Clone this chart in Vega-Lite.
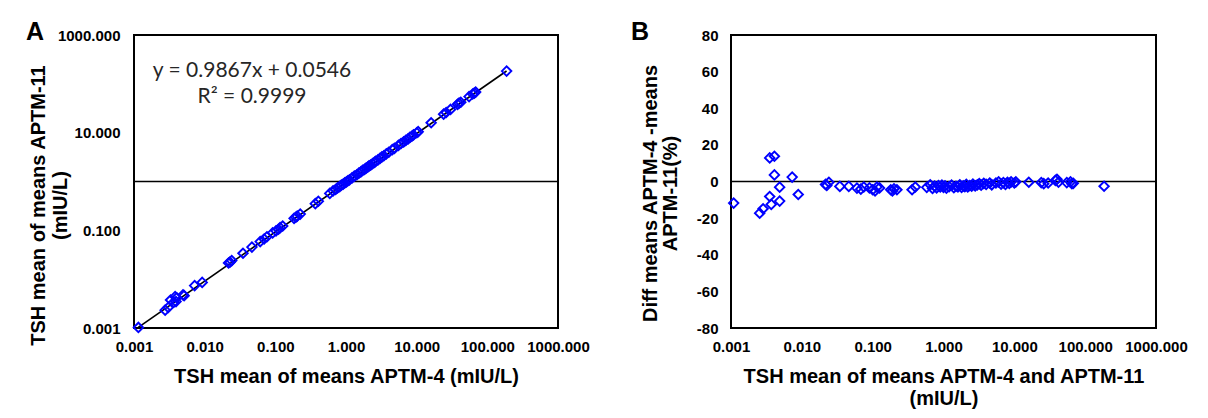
{
  "$schema": "https://vega.github.io/schema/vega-lite/v6.json",
  "background": "white",
  "padding": {"left": 25, "top": 18, "right": 5, "bottom": 5},
  "datasets": {
    "pts": [
      {"mean": 0.00109, "diff": -11.8, "a4": 0.001154, "a11": 0.001026},
      {"mean": 0.00254, "diff": -17.3, "a4": 0.00276, "a11": 0.00232},
      {"mean": 0.00284, "diff": -14.9, "a4": 0.00305, "a11": 0.00263},
      {"mean": 0.00352, "diff": 12.9, "a4": 0.00329, "a11": 0.00375},
      {"mean": 0.0041, "diff": 13.8, "a4": 0.00382, "a11": 0.00438},
      {"mean": 0.0041, "diff": 3.6, "a4": 0.00403, "a11": 0.00417},
      {"mean": 0.00352, "diff": -8.2, "a4": 0.00366, "a11": 0.00338},
      {"mean": 0.0037, "diff": -12.5, "a4": 0.00393, "a11": 0.00347},
      {"mean": 0.00486, "diff": -3.1, "a4": 0.00494, "a11": 0.00478},
      {"mean": 0.00486, "diff": -10.7, "a4": 0.00512, "a11": 0.0046},
      {"mean": 0.0073, "diff": 2.4, "a4": 0.00721, "a11": 0.00739},
      {"mean": 0.0089, "diff": -7.1, "a4": 0.00922, "a11": 0.00858},
      {"mean": 0.0216, "diff": -1.6, "a4": 0.02177, "a11": 0.02143},
      {"mean": 0.0241, "diff": -0.4, "a4": 0.02415, "a11": 0.02405},
      {"mean": 0.0225, "diff": -2.2, "a4": 0.02275, "a11": 0.02225},
      {"mean": 0.0344, "diff": -2.7, "a4": 0.03486, "a11": 0.03394},
      {"mean": 0.046, "diff": -2.7, "a4": 0.04662, "a11": 0.04538},
      {"mean": 0.06, "diff": -3.6, "a4": 0.06108, "a11": 0.05892},
      {"mean": 0.068, "diff": -4.2, "a4": 0.06943, "a11": 0.06657},
      {"mean": 0.075, "diff": -3.0, "a4": 0.07613, "a11": 0.07388},
      {"mean": 0.09, "diff": -3.5, "a4": 0.09158, "a11": 0.08843},
      {"mean": 0.1, "diff": -4.5, "a4": 0.10225, "a11": 0.09775},
      {"mean": 0.108, "diff": -5.2, "a4": 0.11081, "a11": 0.10519},
      {"mean": 0.115, "diff": -3.0, "a4": 0.11673, "a11": 0.11328},
      {"mean": 0.125, "diff": -3.5, "a4": 0.12719, "a11": 0.12281},
      {"mean": 0.18, "diff": -4.5, "a4": 0.18405, "a11": 0.17595},
      {"mean": 0.2, "diff": -4.0, "a4": 0.204, "a11": 0.196},
      {"mean": 0.19, "diff": -5.2, "a4": 0.19494, "a11": 0.18506},
      {"mean": 0.22, "diff": -4.5, "a4": 0.22495, "a11": 0.21505},
      {"mean": 0.36, "diff": -4.5, "a4": 0.3681, "a11": 0.3519},
      {"mean": 0.4, "diff": -3.0, "a4": 0.406, "a11": 0.394},
      {"mean": 0.58, "diff": -3.2, "a4": 0.5893, "a11": 0.5707},
      {"mean": 0.65, "diff": -1.8, "a4": 0.6559, "a11": 0.6442},
      {"mean": 0.7, "diff": -3.8, "a4": 0.7133, "a11": 0.6867},
      {"mean": 0.75, "diff": -2.5, "a4": 0.7594, "a11": 0.7406},
      {"mean": 0.8, "diff": -3.5, "a4": 0.814, "a11": 0.786},
      {"mean": 0.85, "diff": -2.2, "a4": 0.8594, "a11": 0.8407},
      {"mean": 0.9, "diff": -3.0, "a4": 0.9135, "a11": 0.8865},
      {"mean": 0.95, "diff": -2.0, "a4": 0.9595, "a11": 0.9405},
      {"mean": 1.0, "diff": -3.2, "a4": 1.016, "a11": 0.984},
      {"mean": 1.05, "diff": -2.4, "a4": 1.0626, "a11": 1.0374},
      {"mean": 1.1, "diff": -3.6, "a4": 1.1198, "a11": 1.0802},
      {"mean": 1.2, "diff": -2.8, "a4": 1.2168, "a11": 1.1832},
      {"mean": 1.3, "diff": -2.0, "a4": 1.313, "a11": 1.287},
      {"mean": 1.4, "diff": -3.4, "a4": 1.4238, "a11": 1.3762},
      {"mean": 1.5, "diff": -2.6, "a4": 1.5195, "a11": 1.4805},
      {"mean": 1.6, "diff": -3.0, "a4": 1.624, "a11": 1.576},
      {"mean": 1.7, "diff": -1.8, "a4": 1.7153, "a11": 1.6847},
      {"mean": 1.8, "diff": -3.2, "a4": 1.8288, "a11": 1.7712},
      {"mean": 1.9, "diff": -2.4, "a4": 1.9228, "a11": 1.8772},
      {"mean": 2.0, "diff": -2.8, "a4": 2.028, "a11": 1.972},
      {"mean": 2.1, "diff": -1.6, "a4": 2.1168, "a11": 2.0832},
      {"mean": 2.2, "diff": -3.0, "a4": 2.233, "a11": 2.167},
      {"mean": 2.35, "diff": -2.2, "a4": 2.3759, "a11": 2.3242},
      {"mean": 2.5, "diff": -2.6, "a4": 2.5325, "a11": 2.4675},
      {"mean": 2.6, "diff": -1.4, "a4": 2.6182, "a11": 2.5818},
      {"mean": 2.8, "diff": -2.4, "a4": 2.8336, "a11": 2.7664},
      {"mean": 3.0, "diff": -1.8, "a4": 3.027, "a11": 2.973},
      {"mean": 3.2, "diff": -1.2, "a4": 3.2192, "a11": 3.1808},
      {"mean": 3.4, "diff": -2.0, "a4": 3.434, "a11": 3.366},
      {"mean": 3.7, "diff": -1.0, "a4": 3.7185, "a11": 3.6815},
      {"mean": 4.0, "diff": -1.6, "a4": 4.032, "a11": 3.968},
      {"mean": 4.5, "diff": -0.8, "a4": 4.518, "a11": 4.482},
      {"mean": 4.8, "diff": -1.8, "a4": 4.8432, "a11": 4.7568},
      {"mean": 5.5, "diff": -0.8, "a4": 5.522, "a11": 5.478},
      {"mean": 6.0, "diff": -0.2, "a4": 6.006, "a11": 5.994},
      {"mean": 6.5, "diff": -1.4, "a4": 6.5455, "a11": 6.4545},
      {"mean": 7.0, "diff": -0.6, "a4": 7.021, "a11": 6.979},
      {"mean": 7.5, "diff": -1.6, "a4": 7.56, "a11": 7.44},
      {"mean": 8.0, "diff": -0.4, "a4": 8.016, "a11": 7.984},
      {"mean": 8.5, "diff": -1.0, "a4": 8.5425, "a11": 8.4575},
      {"mean": 9.0, "diff": -0.2, "a4": 9.009, "a11": 8.991},
      {"mean": 10.0, "diff": -0.8, "a4": 10.04, "a11": 9.96},
      {"mean": 10.5, "diff": -0.2, "a4": 10.51, "a11": 10.49},
      {"mean": 16, "diff": -0.4, "a4": 16.03, "a11": 15.97},
      {"mean": 24, "diff": -0.6, "a4": 24.07, "a11": 23.93},
      {"mean": 26, "diff": -1.2, "a4": 26.16, "a11": 25.84},
      {"mean": 30, "diff": -0.8, "a4": 30.12, "a11": 29.88},
      {"mean": 38, "diff": 0.6, "a4": 37.89, "a11": 38.11},
      {"mean": 40, "diff": 1.2, "a4": 39.76, "a11": 40.24},
      {"mean": 42, "diff": -0.4, "a4": 42.08, "a11": 41.92},
      {"mean": 55, "diff": -0.6, "a4": 55.17, "a11": 54.84},
      {"mean": 62, "diff": -0.2, "a4": 62.06, "a11": 61.94},
      {"mean": 65, "diff": -1.2, "a4": 65.39, "a11": 64.61},
      {"mean": 68, "diff": -1.0, "a4": 68.34, "a11": 67.66},
      {"mean": 185, "diff": -2.6, "a4": 187.4, "a11": 182.6}
    ],
    "trend": [
      {"a4": 0.00115, "a11": 0.00103},
      {"a4": 187, "a11": 183}
    ],
    "eq": [
      {"a4": 0.0468, "a11": 179, "label": "y = 0.9867x + 0.0546"},
      {"a4": 0.0468, "a11": 55, "label": "R² = 0.9999"}
    ],
    "hlineA": [{"a11": 1}],
    "hlineB": [{"diff": 0}]
  },
  "hconcat": [
    {
      "width": 424,
      "height": 293,
      "title": {"text": "A", "anchor": "start", "frame": "group", "orient": "top", "fontSize": 25, "fontWeight": "bold", "font": "Liberation Sans", "color": "black", "dx": -108, "dy": 16.5, "offset": 0},
      "layer": [
        {
          "data": {"name": "hlineA"},
          "mark": {"type": "rule", "color": "black", "strokeWidth": 1.6},
          "encoding": {
            "y": {"field": "a11", "type": "quantitative", "scale": {"type": "log", "domain": [0.001, 1000], "nice": false},
              "axis": {"values": [0.001, 0.1, 10, 1000], "format": ".3f", "title": ["TSH mean of means APTM-11", "(mIU/L)"], "labelPadding": 14, "titleX": -86, "titleY": 170}}
          }
        },
        {
          "data": {"name": "trend"},
          "mark": {"type": "line", "color": "black", "strokeWidth": 1.6},
          "encoding": {
            "x": {"field": "a4", "type": "quantitative", "scale": {"type": "log", "domain": [0.001, 1000], "nice": false},
              "axis": {"values": [0.001, 0.01, 0.1, 1, 10, 100, 1000], "format": ".3f", "title": "TSH mean of means APTM-4 (mIU/L)", "labelPadding": 11, "titlePadding": 12}},
            "y": {"field": "a11", "type": "quantitative", "scale": {"type": "log", "domain": [0.001, 1000], "nice": false},
              "axis": {"values": [0.001, 0.1, 10, 1000], "format": ".3f", "title": ["TSH mean of means APTM-11", "(mIU/L)"], "labelPadding": 14, "titleX": -86, "titleY": 170}}
          }
        },
        {
          "data": {"name": "pts"},
          "mark": {"type": "point", "shape": "diamond", "filled": false, "color": "#0000ff", "strokeWidth": 1.9, "size": 90, "opacity": 1},
          "encoding": {
            "x": {"field": "a4", "type": "quantitative", "scale": {"type": "log", "domain": [0.001, 1000], "nice": false},
              "axis": {"values": [0.001, 0.01, 0.1, 1, 10, 100, 1000], "format": ".3f", "title": "TSH mean of means APTM-4 (mIU/L)", "labelPadding": 11, "titlePadding": 12}},
            "y": {"field": "a11", "type": "quantitative", "scale": {"type": "log", "domain": [0.001, 1000], "nice": false},
              "axis": {"values": [0.001, 0.1, 10, 1000], "format": ".3f", "title": ["TSH mean of means APTM-11", "(mIU/L)"], "labelPadding": 14, "titleX": -86, "titleY": 170}}
          }
        },
        {
          "data": {"name": "eq"},
          "mark": {"type": "text", "font": "Lato", "fontSize": 21, "color": "#262626", "align": "center", "baseline": "middle"},
          "encoding": {
            "x": {"field": "a4", "type": "quantitative", "scale": {"type": "log", "domain": [0.001, 1000], "nice": false},
              "axis": {"values": [0.001, 0.01, 0.1, 1, 10, 100, 1000], "format": ".3f", "title": "TSH mean of means APTM-4 (mIU/L)", "labelPadding": 11, "titlePadding": 12}},
            "y": {"field": "a11", "type": "quantitative", "scale": {"type": "log", "domain": [0.001, 1000], "nice": false},
              "axis": {"values": [0.001, 0.1, 10, 1000], "format": ".3f", "title": ["TSH mean of means APTM-11", "(mIU/L)"], "labelPadding": 14, "titleX": -86, "titleY": 170}},
            "text": {"field": "label", "type": "nominal"}
          }
        }
      ]
    },
    {
      "width": 425,
      "height": 293,
      "title": {"text": "B", "anchor": "start", "frame": "group", "orient": "top", "fontSize": 25, "fontWeight": "bold", "font": "Liberation Sans", "color": "black", "dx": -100, "dy": 16.5, "offset": 0},
      "layer": [
        {
          "data": {"name": "hlineB"},
          "mark": {"type": "rule", "color": "black", "strokeWidth": 1.6},
          "encoding": {
            "y": {"field": "diff", "type": "quantitative", "scale": {"domain": [-80, 80], "nice": false},
              "axis": {"values": [-80, -60, -40, -20, 0, 20, 40, 60, 80], "labelExpr": "toString(datum.value)", "title": ["Diff means APTM-4 -means", "APTM-11(%)"], "labelPadding": 13, "titleX": -71, "titleY": 158, "titleLineHeight": 20}}
          }
        },
        {
          "data": {"name": "pts"},
          "mark": {"type": "point", "shape": "diamond", "filled": false, "color": "#0000ff", "strokeWidth": 1.9, "size": 90, "opacity": 1},
          "encoding": {
            "x": {"field": "mean", "type": "quantitative", "scale": {"type": "log", "domain": [0.001, 1000], "nice": false},
              "axis": {"values": [0.001, 0.01, 0.1, 1, 10, 100, 1000], "format": ".3f", "title": ["TSH mean of means APTM-4 and APTM-11", "(mIU/L)"], "labelPadding": 11, "titlePadding": 12}},
            "y": {"field": "diff", "type": "quantitative", "scale": {"domain": [-80, 80], "nice": false},
              "axis": {"values": [-80, -60, -40, -20, 0, 20, 40, 60, 80], "labelExpr": "toString(datum.value)", "title": ["Diff means APTM-4 -means", "APTM-11(%)"], "labelPadding": 13, "titleX": -71, "titleY": 158, "titleLineHeight": 20}}
          }
        }
      ]
    }
  ],
  "spacing": 173,
  "bounds": "flush",
  "config": {
    "font": "Liberation Sans",
    "view": {"stroke": "black", "strokeWidth": 2},
    "axis": {
      "domain": false,
      "ticks": false,
      "grid": false,
      "labelFont": "Liberation Sans",
      "labelFontSize": 15,
      "labelFontWeight": "bold",
      "labelColor": "black",
      "labelFlush": false,
      "labelOverlap": false,
      "titleFont": "Liberation Sans",
      "titleFontSize": 20,
      "titleFontWeight": "bold",
      "titleColor": "black",
      "titleLineHeight": 22
    }
  }
}
